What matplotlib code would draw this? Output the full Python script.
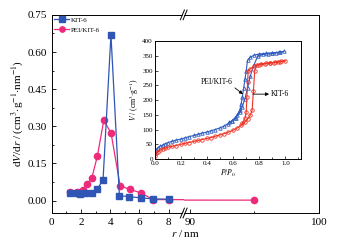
import matplotlib
matplotlib.use("Agg")
import matplotlib.pyplot as plt
from matplotlib.lines import Line2D
from matplotlib.ticker import MultipleLocator

plt.rcParams["font.family"] = ["Liberation Serif", "DejaVu Serif"]
plt.rcParams["mathtext.fontset"] = "stix"

# pore size distribution
kit_r = [1.23, 1.69, 1.92, 2.26, 2.72, 3.10, 3.51, 4.05, 4.63, 5.30, 6.12, 6.94, 8.0]
kit_dv = [0.032, 0.031, 0.027, 0.031, 0.030, 0.045, 0.085, 0.67, 0.020, 0.016, 0.011, 0.007, 0.006]
pei_r = [1.23, 1.69, 1.92, 2.10, 2.42, 2.74, 3.12, 3.56, 4.06, 4.68, 5.36, 6.12, 6.94, 8.0, 95.0]
pei_dv = [0.036, 0.036, 0.034, 0.042, 0.067, 0.092, 0.18, 0.325, 0.272, 0.06, 0.045, 0.031, 0.004, 0.004, 0.002]

# isotherms (inset)
blue_p = [0.0, 0.01, 0.02, 0.04, 0.06, 0.08, 0.10, 0.13, 0.16, 0.20, 0.23, 0.26, 0.30,
          0.33, 0.36, 0.40, 0.43, 0.46, 0.50, 0.53, 0.56, 0.59, 0.62, 0.65, 0.67, 0.69,
          0.71, 0.73, 0.76, 0.79, 0.83, 0.87, 0.90, 0.93, 0.96, 0.99,
          0.95, 0.90, 0.85, 0.80, 0.76, 0.73, 0.71, 0.70, 0.69, 0.68, 0.67, 0.66, 0.65,
          0.63, 0.61, 0.59, 0.57]
blue_v = [20, 32, 38, 44, 48, 52, 56, 60, 64, 68, 72, 76, 80,
          84, 88, 92, 96, 100, 106, 112, 120, 128, 140, 158, 178, 205,
          240, 280, 320, 350, 355, 357, 358, 360, 362, 365,
          362, 360, 358, 356, 352, 345, 335, 300, 270, 240, 210, 185, 165,
          150, 138, 130, 124]
red_p = [0.0, 0.01, 0.02, 0.04, 0.06, 0.08, 0.10, 0.13, 0.16, 0.20, 0.23, 0.26, 0.30,
         0.33, 0.36, 0.40, 0.43, 0.46, 0.50, 0.53, 0.56, 0.60, 0.63, 0.66, 0.69, 0.71,
         0.73, 0.745, 0.755, 0.765, 0.78, 0.81, 0.85, 0.88, 0.91, 0.94, 0.97, 1.0,
         0.96, 0.92, 0.88, 0.84, 0.80, 0.76, 0.73, 0.715, 0.71, 0.705, 0.70, 0.69, 0.67]
red_v = [10, 20, 25, 30, 34, 37, 40, 43, 46, 50, 53, 56, 60,
         63, 66, 70, 73, 77, 82, 86, 91, 98, 105, 114, 125, 135,
         148, 165, 230, 300, 318, 322, 324, 325, 327, 329, 331, 333,
         330, 328, 326, 323, 320, 315, 305, 300, 260, 210, 160, 138, 122]

blue = "#2f55b5"
pink = "#ee2a7b"
iblue = "#2e5cc0"
ired = "#ee3526"

fig = plt.figure(figsize=(3.39, 2.44), dpi=100)
ax1 = fig.add_axes([0.153, 0.127, 0.389, 0.812])
ax2 = fig.add_axes([0.542, 0.127, 0.399, 0.812])

for ax in (ax1, ax2):
    ax.plot(kit_r, kit_dv, color=blue, marker="s", ms=4.5, lw=0.9, label="KIT-6", zorder=3)
    ax.plot(pei_r, pei_dv, color=pink, marker="o", ms=4.5, lw=0.9, label="PEI/KIT-6", zorder=2)
    ax.set_ylim(-0.05, 0.75)
    ax.tick_params(which="both", direction="in", labelsize=8, width=0.6, top=False, right=False)
    ax.tick_params(which="major", length=3)
    ax.tick_params(which="minor", length=1.5)
    for s in ax.spines.values():
        s.set_linewidth(0.7)

ax1.set_xlim(0, 9.04)
ax1.xaxis.set_major_locator(MultipleLocator(2))
ax1.xaxis.set_minor_locator(MultipleLocator(1))
ax1.yaxis.set_major_locator(MultipleLocator(0.15))
ax1.yaxis.set_minor_locator(MultipleLocator(0.075))
ax1.yaxis.set_major_formatter(plt.FormatStrFormatter("%.2f"))
ax1.spines["right"].set_visible(False)
ax1.set_ylabel(r"d$V$/d$r$ / (cm$^3$$\cdot$g$^{-1}$$\cdot$nm$^{-1}$)", fontsize=8, labelpad=2)
leg = ax1.legend(loc="upper left", frameon=False, fontsize=5, handlelength=2.2,
                 borderaxespad=0.15, borderpad=0.15, labelspacing=0.55,
                 handletextpad=0.2, markerscale=0.85)
leg.set_zorder(10)

ax2.set_xlim(89.53, 100)
ax2.set_xticks([90, 100])
ax2.xaxis.set_minor_locator(MultipleLocator(5))
ax2.spines["left"].set_visible(False)
ax2.tick_params(axis="y", which="both", left=False, labelleft=False)

fig.text(0.547, 0.045, r"$r$ / nm", ha="center", va="center", fontsize=8)

# break marks
bx = 0.542
for by in (0.127, 0.939):
    dx, dy = 0.006, 0.02
    for off in (-0.004, 0.004):
        fig.add_artist(Line2D([bx + off - dx, bx + off + dx], [by - dy, by + dy],
                              color="black", lw=0.7, zorder=10))
    fig.add_artist(plt.Polygon([[bx - 0.004 - dx + 0.0015, by - dy + 0.005],
                                [bx + 0.004 - dx - 0.0015, by - dy + 0.005],
                                [bx + 0.004 + dx - 0.0015, by + dy - 0.005],
                                [bx - 0.004 + dx + 0.0015, by + dy - 0.005]],
                               closed=True, facecolor="white", edgecolor="none", zorder=9))

# inset
ins = fig.add_axes([0.457, 0.348, 0.431, 0.484])
ins.plot(blue_p, blue_v, color=iblue, marker="^", ms=2.5, mfc="none", mew=0.6, lw=0.8)
ins.plot(red_p, red_v, color=ired, marker="o", ms=2.5, mfc="none", mew=0.6, lw=0.8)
ins.set_xlim(0, 1.12)
ins.set_ylim(0, 400)
ins.xaxis.set_major_locator(MultipleLocator(0.2))
ins.xaxis.set_minor_locator(MultipleLocator(0.1))
ins.yaxis.set_major_locator(MultipleLocator(50))
ins.xaxis.set_major_formatter(plt.FormatStrFormatter("%.1f"))
ins.tick_params(which="both", direction="in", labelsize=5, width=0.5, pad=1.5)
ins.tick_params(which="major", length=2.5)
ins.tick_params(which="minor", length=1.2)
for s in ins.spines.values():
    s.set_linewidth(0.7)
ins.set_xlabel(r"$P$/$P_0$", fontsize=5.5, labelpad=1)
ins.set_ylabel(r"$V$ / (cm$^3$$\cdot$g$^{-1}$)", fontsize=5.5, labelpad=1)
ins.annotate("PEI/KIT-6", xy=(0.675, 220), xytext=(0.47, 262), fontsize=5.5,
             ha="center", va="center",
             arrowprops={"arrowstyle": "-|>", "color": "black", "lw": 0.6,
                         "mutation_scale": 5, "shrinkA": 0, "shrinkB": 0,
                         "relpos": (1.0, 0.0)})
ins.annotate("", xy=(0.875, 220), xytext=(0.75, 220),
             arrowprops={"arrowstyle": "-|>", "color": "black", "lw": 0.6,
                         "mutation_scale": 5, "shrinkA": 0, "shrinkB": 0})
ins.text(0.885, 220, "KIT-6", fontsize=5.5, ha="left", va="center")

fig.savefig("out.png", dpi=100)
